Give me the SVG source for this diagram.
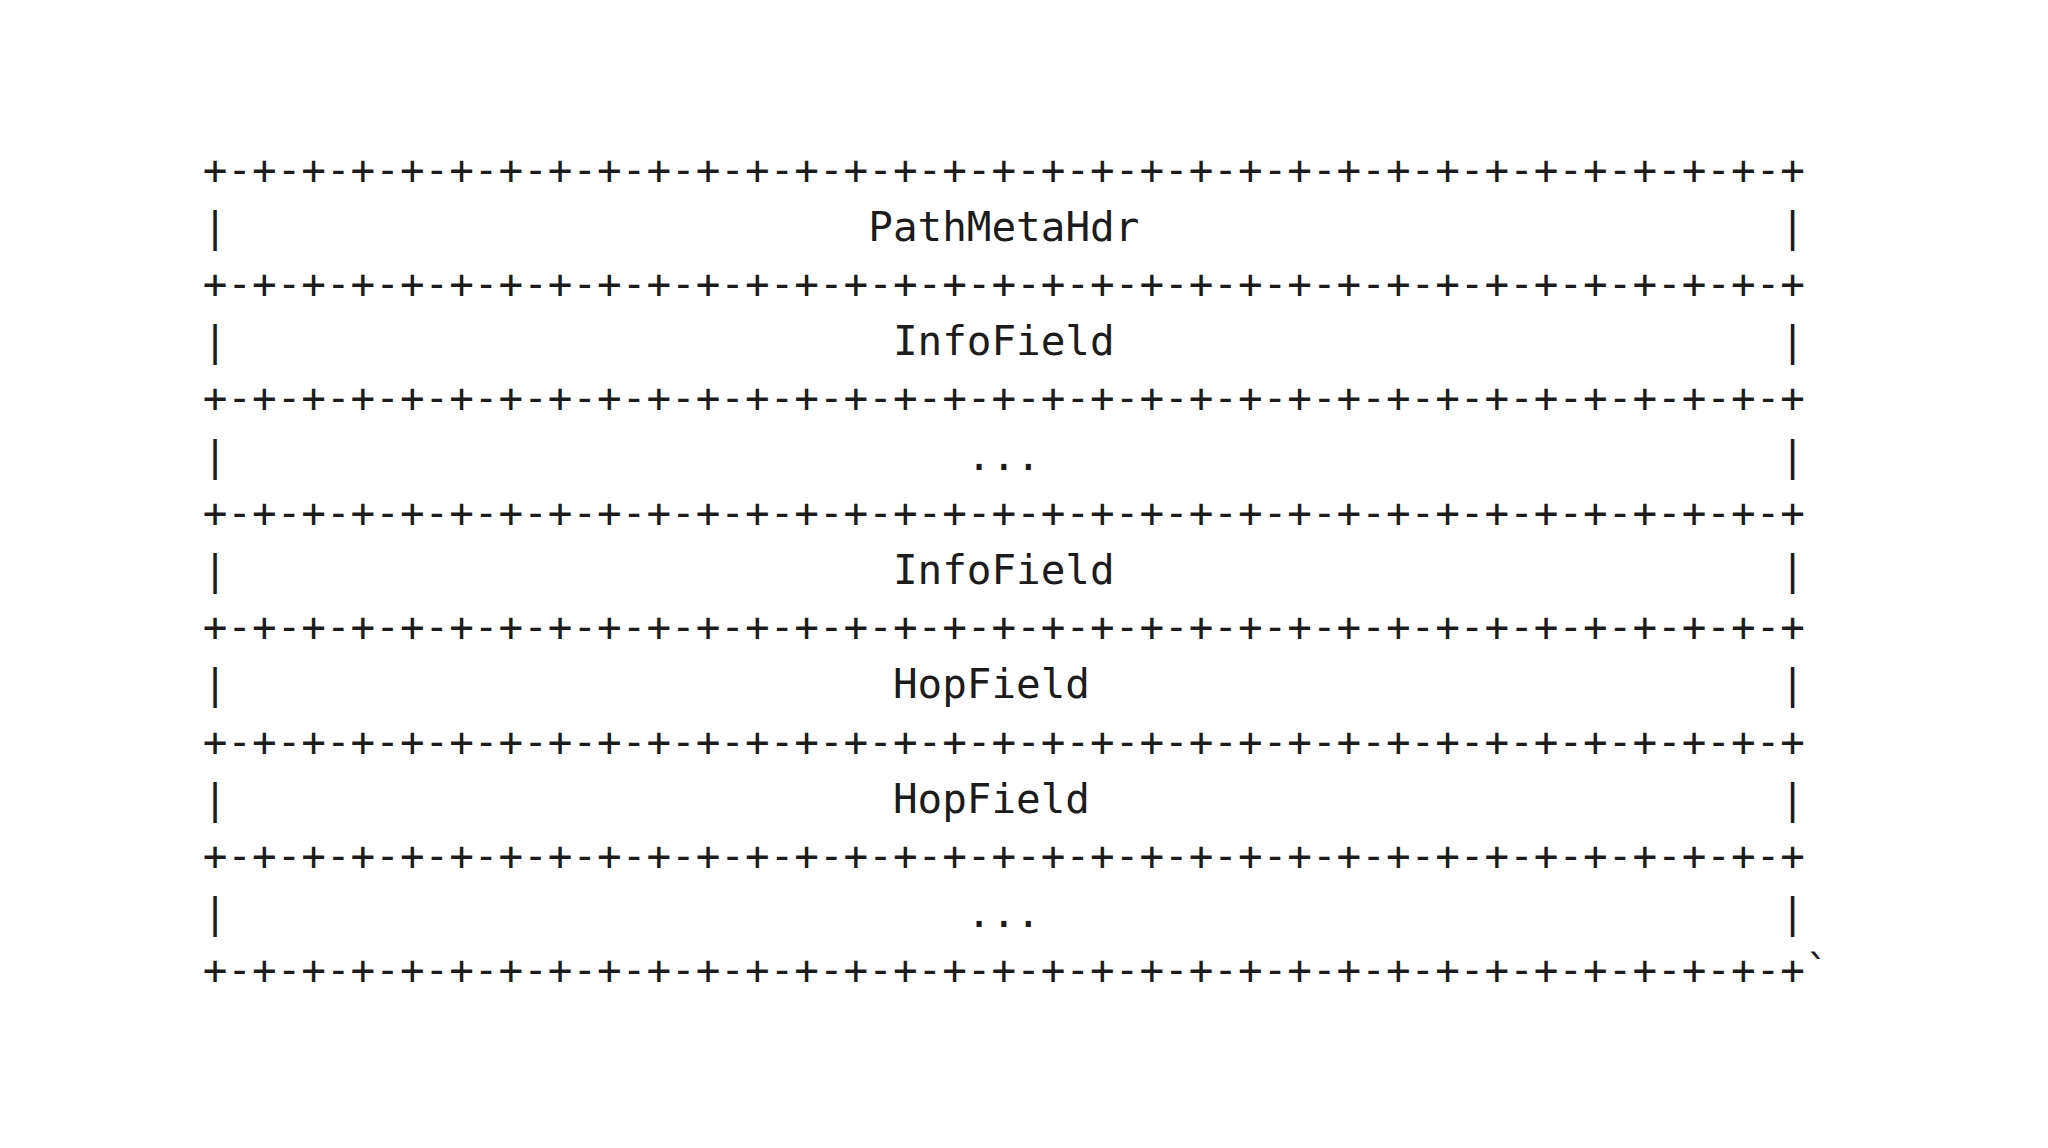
<svg xmlns="http://www.w3.org/2000/svg" width="2048" height="1148" viewBox="0 0 2048 1148">
<style>
text{font-family:"DejaVu Sans Mono","Liberation Mono",monospace;font-size:40.94px;fill:#1c1c1c;}
</style>
<rect width="2048" height="1148" fill="#ffffff"/>
<g id="connectors">
<text x="202.7" y="183.5" textLength="1602.25" lengthAdjust="spacing">+-+-+-+-+-+-+-+-+-+-+-+-+-+-+-+-+-+-+-+-+-+-+-+-+-+-+-+-+-+-+-+-+</text>
<text x="202.7" y="297.9" textLength="1602.25" lengthAdjust="spacing">+-+-+-+-+-+-+-+-+-+-+-+-+-+-+-+-+-+-+-+-+-+-+-+-+-+-+-+-+-+-+-+-+</text>
<text x="202.7" y="412.3" textLength="1602.25" lengthAdjust="spacing">+-+-+-+-+-+-+-+-+-+-+-+-+-+-+-+-+-+-+-+-+-+-+-+-+-+-+-+-+-+-+-+-+</text>
<text x="202.7" y="526.7" textLength="1602.25" lengthAdjust="spacing">+-+-+-+-+-+-+-+-+-+-+-+-+-+-+-+-+-+-+-+-+-+-+-+-+-+-+-+-+-+-+-+-+</text>
<text x="202.7" y="641.1" textLength="1602.25" lengthAdjust="spacing">+-+-+-+-+-+-+-+-+-+-+-+-+-+-+-+-+-+-+-+-+-+-+-+-+-+-+-+-+-+-+-+-+</text>
<text x="202.7" y="755.5" textLength="1602.25" lengthAdjust="spacing">+-+-+-+-+-+-+-+-+-+-+-+-+-+-+-+-+-+-+-+-+-+-+-+-+-+-+-+-+-+-+-+-+</text>
<text x="202.7" y="869.9" textLength="1602.25" lengthAdjust="spacing">+-+-+-+-+-+-+-+-+-+-+-+-+-+-+-+-+-+-+-+-+-+-+-+-+-+-+-+-+-+-+-+-+</text>
<text x="202.7" y="984.3" textLength="1626.9" lengthAdjust="spacing">+-+-+-+-+-+-+-+-+-+-+-+-+-+-+-+-+-+-+-+-+-+-+-+-+-+-+-+-+-+-+-+-+`</text>
</g>
<g id="row-pathmetahdr">
<text x="202.7" y="240.7">|</text>
<text x="868.3" y="240.7">PathMetaHdr</text>
<text x="1780.3" y="240.7">|</text>
</g>
<g id="row-infofield-1">
<text x="202.7" y="355.1">|</text>
<text x="892.9" y="355.1">InfoField</text>
<text x="1780.3" y="355.1">|</text>
</g>
<g id="row-ellipsis-1">
<text x="202.7" y="469.5">|</text>
<text x="966.85" y="469.5">...</text>
<text x="1780.3" y="469.5">|</text>
</g>
<g id="row-infofield-2">
<text x="202.7" y="583.9">|</text>
<text x="892.9" y="583.9">InfoField</text>
<text x="1780.3" y="583.9">|</text>
</g>
<g id="row-hopfield-1">
<text x="202.7" y="698.3">|</text>
<text x="892.9" y="698.3">HopField</text>
<text x="1780.3" y="698.3">|</text>
</g>
<g id="row-hopfield-2">
<text x="202.7" y="812.7">|</text>
<text x="892.9" y="812.7">HopField</text>
<text x="1780.3" y="812.7">|</text>
</g>
<g id="row-ellipsis-2">
<text x="202.7" y="927.1">|</text>
<text x="966.85" y="927.1">...</text>
<text x="1780.3" y="927.1">|</text>
</g>
</svg>
